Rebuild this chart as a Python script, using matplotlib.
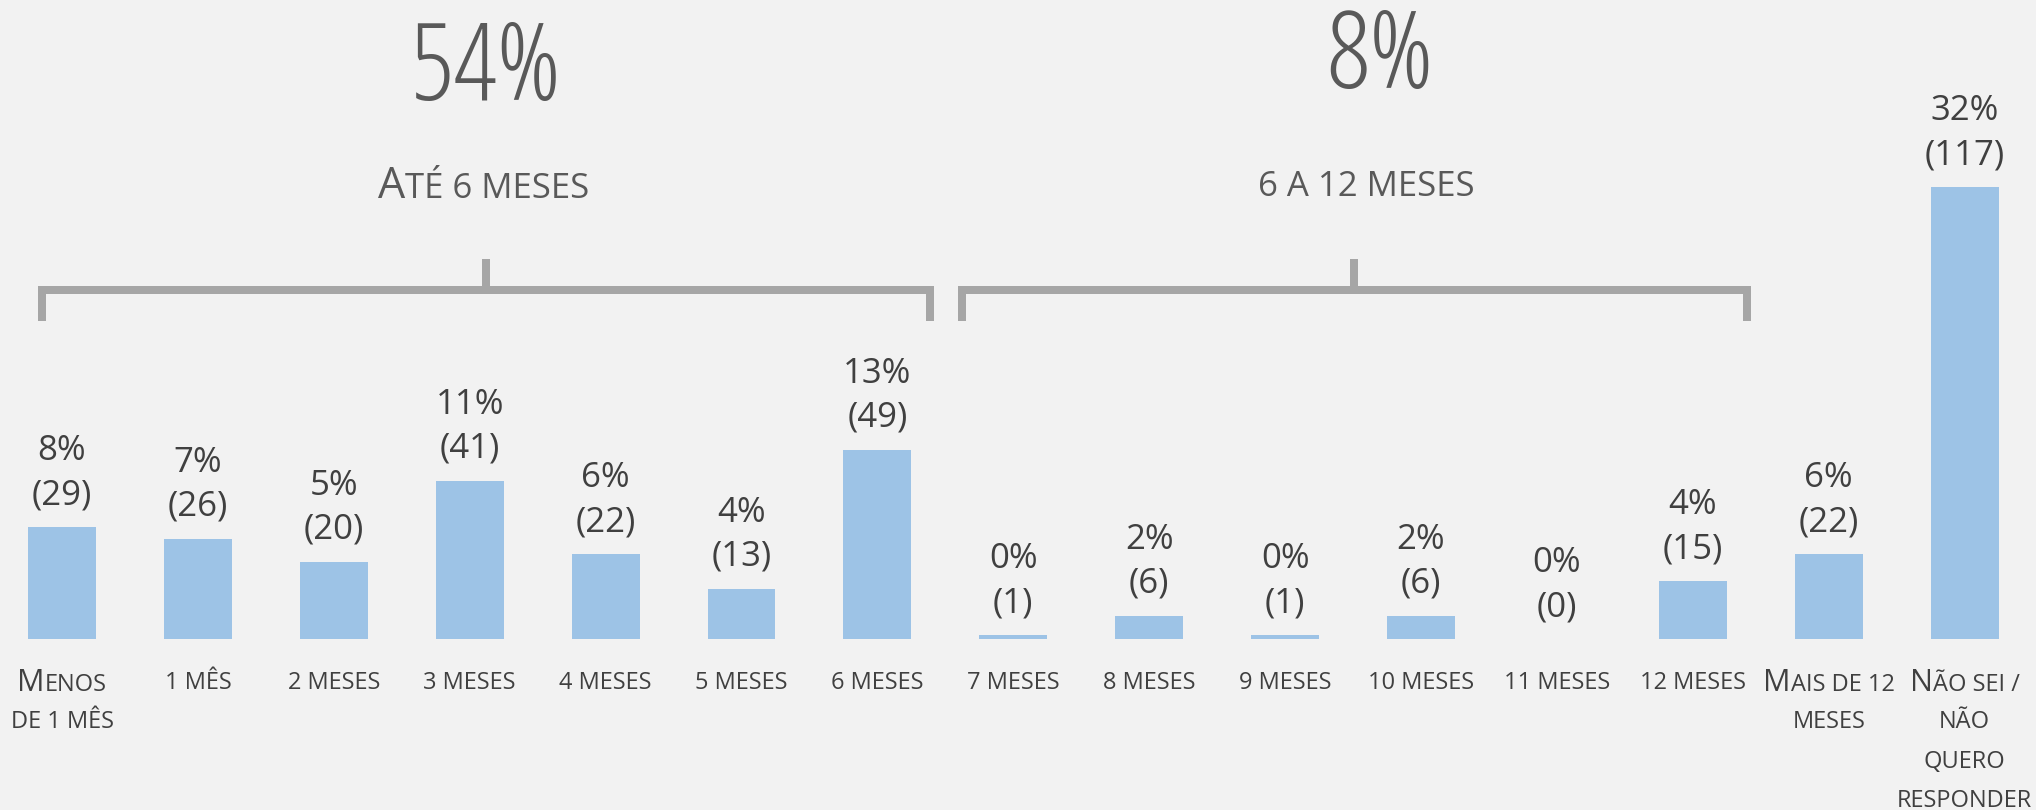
import matplotlib
matplotlib.use("Agg")
import matplotlib.pyplot as plt
import matplotlib.transforms as mtransforms
from matplotlib.offsetbox import TextArea, HPacker, AnnotationBbox

# ---------------- data ----------------
categories = ["Menos\nde 1 mês", "1 mês", "2 meses", "3 meses", "4 meses", "5 meses",
              "6 meses", "7 meses", "8 meses", "9 meses", "10 meses", "11 meses",
              "12 meses", "Mais de 12\nmeses", "Não sei /\nnão\nquero\nresponder"]
counts = [29, 26, 20, 41, 22, 13, 49, 1, 6, 1, 6, 0, 15, 22, 117]
percents = [8, 7, 5, 11, 6, 4, 13, 0, 2, 0, 2, 0, 4, 6, 32]
group_labels = ["Até 6 meses", "6 a 12 meses"]
group_totals = ["54%", "8%"]
group_first = [0, 7]
group_last = [6, 12]

# ---------------- style ----------------
BG = "#F2F2F2"
BAR = "#9DC3E6"
BRACKET = "#A6A6A6"
TXT = "#404040"
HEAD = "#595959"
FONT = ["Open Sans", "DejaVu Sans"]
W, H = 2036, 810
DPI = 100
PT = 72 / DPI  # points per pixel

fig = plt.figure(figsize=(W / DPI, H / DPI), dpi=DPI, facecolor=BG)
ax = fig.add_axes([0, 0, 1, 1])
ax.set_facecolor(BG)

x = list(range(len(categories)))
ax.bar(x, counts, width=0.5, color=BAR, linewidth=0)

# pixel layout: first bar centre at 62 px, spacing 135.9 px, baseline 639 px from top
px_per_unit = 3.86
step = 135.9
ax.set_xlim(-62 / step, (W - 62) / step)
ax.set_ylim(-(H - 639) / px_per_unit, 639 / px_per_unit)
ax.axis("off")

blend = mtransforms.blended_transform_factory(ax.transData, ax.transAxes)


def yf(py):
    """pixel row from top -> axes fraction"""
    return 1 - py / H


def sc_segments(line):
    segs = []
    for ch in line:
        big = ch.isupper()
        if segs and segs[-1][1] == big:
            segs[-1][0] += ch.upper()
        else:
            segs.append([ch.upper(), big])
    return segs


def sc_text(xv, yv, line, big, small, color, transform, weight="normal"):
    kids = [TextArea(s, textprops=dict(fontsize=big if b else small, color=color,
                                       family=FONT, weight=weight))
            for s, b in sc_segments(line)]
    box = HPacker(children=kids, align="baseline", pad=0, sep=0)
    ab = AnnotationBbox(box, (xv, yv), xycoords=transform, box_alignment=(0.5, 0.5),
                        frameon=False, pad=0)
    ax.add_artist(ab)


# value labels
for i, (c, p) in enumerate(zip(counts, percents)):
    ax.annotate(f"{p}%", (i, c), xytext=(0, 67 * PT), textcoords="offset points",
                ha="center", va="baseline", fontsize=25, color=TXT, family=FONT)
    ax.annotate(f"({c})", (i, c), xytext=(0, 23 * PT), textcoords="offset points",
                ha="center", va="baseline", fontsize=25, color=TXT, family=FONT)

# category labels (small caps)
for i, lab in enumerate(categories):
    for k, line in enumerate(lab.split("\n")):
        sc_text(i, yf(683 + 39.3 * k), line, 22, 17, TXT, blend)

# brackets and group headers
pad_left = [0.147, 0.38]
pad_right = [0.39, 0.40]
total_dx = [0.0, 0.19]
total_base = [100, 88]
label_dx = [-0.02, 0.09]
for g in range(2):
    x0 = group_first[g] - pad_left[g]
    x1 = group_last[g] + pad_right[g]
    xc = (x0 + x1) / 2
    ax.plot([x0, x0, x1, x1], [yf(321), yf(289.5), yf(289.5), yf(321)], transform=blend,
            color=BRACKET, lw=8 * PT, solid_joinstyle="miter", solid_capstyle="butt")
    ax.plot([xc, xc], [yf(289.5), yf(259)], transform=blend,
            color=BRACKET, lw=8 * PT, solid_capstyle="butt")
    ax.text(xc + total_dx[g], yf(total_base[g]), group_totals[g], transform=blend,
            ha="center", va="baseline", fontsize=78, color=HEAD, family=FONT,
            fontstretch="condensed", weight="normal")
    sc_text(xc + label_dx[g], yf(187), group_labels[g], 31, 25, HEAD, blend)

fig.savefig("out.png", dpi=DPI, facecolor=BG)
